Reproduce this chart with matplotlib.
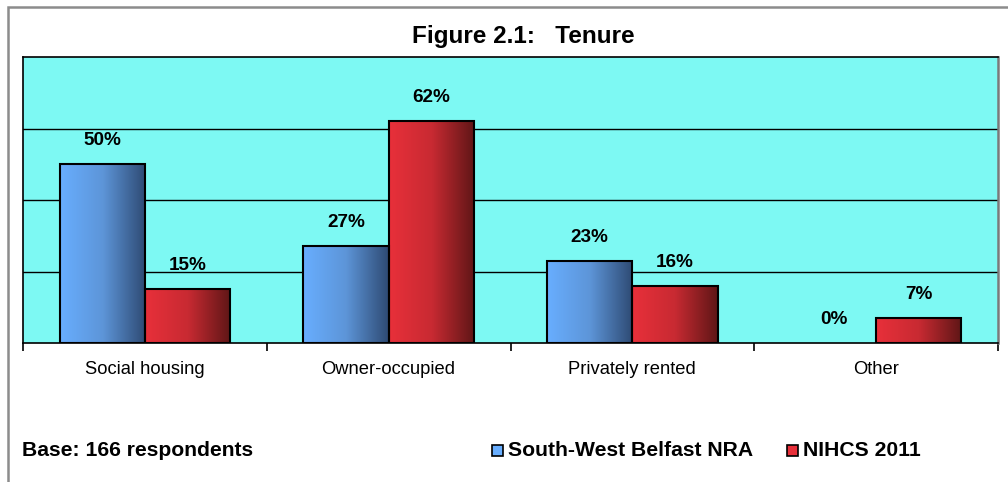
import numpy as np
import matplotlib
matplotlib.use("Agg")
import matplotlib.pyplot as plt
from matplotlib.patches import Rectangle
from matplotlib.colors import LinearSegmentedColormap

categories = ["Social housing", "Owner-occupied", "Privately rented", "Other"]
series_names = ["South-West Belfast NRA", "NIHCS 2011"]
sw_belfast = [50, 27, 23, 0]
nihcs_2011 = [15, 62, 16, 7]
title = "Figure 2.1:   Tenure"
base_note = "Base: 166 respondents"

plt.rcParams['font.family'] = ['Liberation Sans', 'DejaVu Sans']

W, H = 1008, 482
fig = plt.figure(figsize=(W / 100, H / 100), dpi=100)

def fx(px):
    return px / W

def fy(py):
    return 1 - py / H

# outer border
fig.patches.append(Rectangle((fx(8), fy(H + 20)), fx(W + 20), fy(7) - fy(H + 20),
                             transform=fig.transFigure, fill=False,
                             edgecolor='#8c8c8c', linewidth=1.8, zorder=0))

left, right, top, bottom = 23, 998, 57, 343
ax = fig.add_axes([fx(left), fy(bottom), fx(right - left), fy(top) - fy(bottom)])
ax.set_facecolor('#7DF9F3')
ax.set_xlim(-0.5, len(categories) - 0.5)
ax.set_ylim(0, 80)

for s in ['left', 'top', 'bottom']:
    ax.spines[s].set_color('black')
    ax.spines[s].set_linewidth(1.2)
ax.spines['bottom'].set_zorder(5)
ax.spines['right'].set_color('#7a7a7a')
ax.spines['right'].set_linewidth(1.8)

ax.set_yticks([20, 40, 60])
ax.yaxis.grid(True, color='black', linewidth=1.0)
ax.set_axisbelow(True)
ax.tick_params(axis='y', length=0, labelleft=False)

# category ticks at boundaries, labels at centers
x = np.arange(len(categories))
ax.set_xticks(np.arange(len(categories) + 1) - 0.5, minor=False)
ax.set_xticklabels([])
ax.tick_params(axis='x', which='major', length=6, width=1.2, color='black', direction='out')
ax.set_xticks(x, minor=True)
ax.set_xticklabels(categories, minor=True, fontsize=13.2)
ax.tick_params(axis='x', which='minor', length=0, pad=13)

bw = 0.35
blue_cmap = LinearSegmentedColormap.from_list('b', ['#68AEFF', '#5D95D8', '#2E4A73'])
red_cmap = LinearSegmentedColormap.from_list('r', ['#E8303A', '#C82A32', '#5E1616'])
grad = np.linspace(0, 1, 256).reshape(1, -1)

def draw(vals, offset, cmap):
    bars = ax.bar(x + offset, vals, width=bw, edgecolor='black', linewidth=1.5,
                  facecolor='none', zorder=3)
    for b, v in zip(bars, vals):
        if v > 0:
            im = ax.imshow(grad, cmap=cmap, aspect='auto', zorder=2.5,
                           extent=(b.get_x(), b.get_x() + b.get_width(), 0, b.get_height()))
            im.set_clip_path(b)
        else:
            b.set_linewidth(0)
        ax.annotate(f"{v}%", (b.get_x() + b.get_width() / 2, v), xytext=(0, 17),
                    textcoords='offset points', ha='center', va='center',
                    fontsize=13.6, fontweight='bold', zorder=4)
    return bars

draw(sw_belfast, -bw / 2, blue_cmap)
draw(nihcs_2011, bw / 2, red_cmap)
ax.set_xlim(-0.5, len(categories) - 0.5)
ax.set_ylim(0, 80)

fig.text(fx(523), fy(36), title, ha='center', va='center', fontsize=17.5, fontweight='bold')
fig.text(fx(22), fy(451), base_note, ha='left', va='center', fontsize=15.2, fontweight='bold')

# legend
for (sx, tx, name, c0, c1) in [(492, 508, series_names[0], '#68AEFF', '#2E4A73'),
                               (787, 803, series_names[1], '#E8303A', '#5E1616')]:
    fig.patches.append(Rectangle((fx(sx), fy(456)), fx(11), fy(445) - fy(456),
                                 transform=fig.transFigure, facecolor=c0,
                                 edgecolor='black', linewidth=1.2))
    fig.text(fx(tx), fy(451), name, ha='left', va='center', fontsize=15.2, fontweight='bold')

fig.savefig('out.png', dpi=100)
